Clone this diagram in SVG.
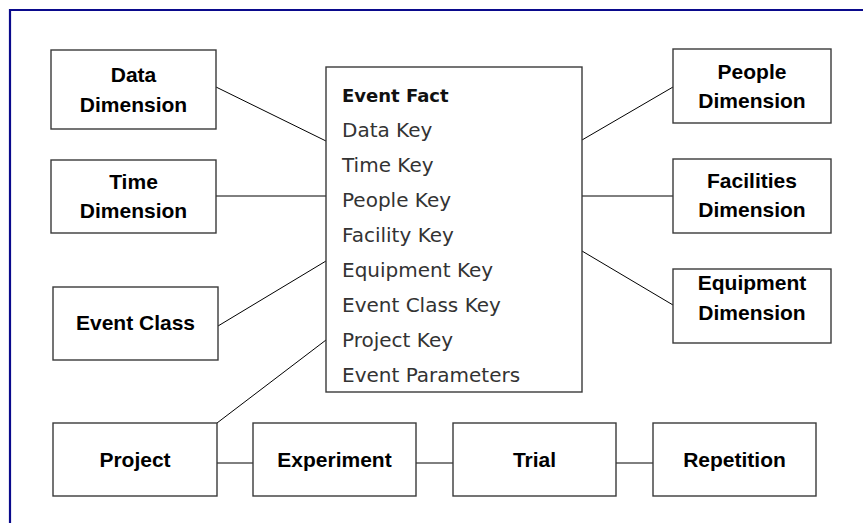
<svg xmlns="http://www.w3.org/2000/svg" width="863" height="523" viewBox="0 0 863 523">
<style>
.box{fill:#fff;stroke:#3a3a3a;stroke-width:1.4}
.lbl{font-family:"Liberation Sans",Arial,sans-serif;font-weight:bold;font-size:21px;fill:#000;text-anchor:middle}
.key{font-family:"DejaVu Sans",sans-serif;font-size:20px;fill:#333}
.keyb{font-family:"DejaVu Sans",sans-serif;font-size:18px;font-weight:bold;fill:#111}
.con{stroke:#000;stroke-width:1;fill:none}
</style>
<rect width="863" height="523" fill="#fff"/>
<path d="M10 523 V10 H863" fill="none" stroke="#0a0a8c" stroke-width="2.2"/>
<g id="connectors">
<line class="con" x1="216" y1="87" x2="326" y2="141"/>
<line class="con" x1="216" y1="196" x2="326" y2="196"/>
<line class="con" x1="218" y1="326" x2="326" y2="261"/>
<line class="con" x1="217" y1="423" x2="326" y2="340"/>
<line class="con" x1="582" y1="140" x2="673" y2="87"/>
<line class="con" x1="582" y1="196" x2="673" y2="196"/>
<line class="con" x1="582" y1="251" x2="673" y2="305"/>
<line class="con" x1="217" y1="463" x2="253" y2="463"/>
<line class="con" x1="416" y1="463" x2="453" y2="463"/>
<line class="con" x1="616" y1="463" x2="653" y2="463"/>
</g>
<g id="data-dimension">
<rect class="box" x="51" y="50" width="165" height="79"/>
<text class="lbl" x="133.5" y="82">Data</text>
<text class="lbl" x="133.5" y="112">Dimension</text>
</g>
<g id="time-dimension">
<rect class="box" x="51" y="160" width="165" height="73"/>
<text class="lbl" x="133.5" y="189">Time</text>
<text class="lbl" x="133.5" y="218">Dimension</text>
</g>
<g id="event-class">
<rect class="box" x="53" y="287" width="165" height="73"/>
<text class="lbl" x="135.5" y="330">Event Class</text>
</g>
<g id="event-fact">
<rect class="box" x="326" y="67" width="256" height="325"/>
<text class="keyb" x="342" y="102">Event Fact</text>
<text class="key" x="342" y="137">Data Key</text>
<text class="key" x="342" y="172">Time Key</text>
<text class="key" x="342" y="207">People Key</text>
<text class="key" x="342" y="242">Facility Key</text>
<text class="key" x="342" y="277">Equipment Key</text>
<text class="key" x="342" y="312">Event Class Key</text>
<text class="key" x="342" y="347">Project Key</text>
<text class="key" x="342" y="382">Event Parameters</text>
</g>
<g id="people-dimension">
<rect class="box" x="673" y="49" width="158" height="74"/>
<text class="lbl" x="752" y="79">People</text>
<text class="lbl" x="752" y="108">Dimension</text>
</g>
<g id="facilities-dimension">
<rect class="box" x="673" y="159" width="158" height="74"/>
<text class="lbl" x="752" y="188">Facilities</text>
<text class="lbl" x="752" y="217">Dimension</text>
</g>
<g id="equipment-dimension">
<rect class="box" x="673" y="269" width="158" height="74"/>
<text class="lbl" x="752" y="290">Equipment</text>
<text class="lbl" x="752" y="320">Dimension</text>
</g>
<g id="project">
<rect class="box" x="53" y="423" width="164" height="73"/>
<text class="lbl" x="135" y="467">Project</text>
</g>
<g id="experiment">
<rect class="box" x="253" y="423" width="163" height="73"/>
<text class="lbl" x="334.5" y="467">Experiment</text>
</g>
<g id="trial">
<rect class="box" x="453" y="423" width="163" height="73"/>
<text class="lbl" x="534.5" y="467">Trial</text>
</g>
<g id="repetition">
<rect class="box" x="653" y="423" width="163" height="73"/>
<text class="lbl" x="734.5" y="467">Repetition</text>
</g>
</svg>
